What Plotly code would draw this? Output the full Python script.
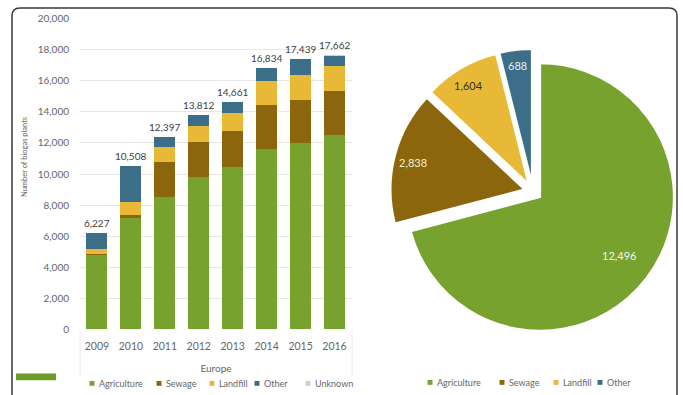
import math
import plotly.graph_objects as go

# ---- data -------------------------------------------------------------
years = ["2009", "2010", "2011", "2012", "2013", "2014", "2015", "2016"]
agriculture = [4830, 7140, 8540, 9780, 10430, 11610, 11980, 12496]
sewage = [50, 215, 2215, 2300, 2370, 2840, 2790, 2838]
landfill = [300, 820, 1010, 1010, 1120, 1550, 1610, 1604]
other = [1047, 2333, 632, 722, 741, 834, 1059, 688]
unknown = [0, 0, 0, 0, 0, 0, 0, 36]
totals = [6227, 10508, 12397, 13812, 14661, 16834, 17439, 17662]

series_names = ["Agriculture", "Sewage", "Landfill", "Other", "Unknown"]

pie_labels = ["Agriculture", "Sewage", "Landfill", "Other"]
pie_values = [12496, 2838, 1604, 688]

y_ticks = [0, 2000, 4000, 6000, 8000, 10000, 12000, 14000, 16000, 18000, 20000]

# ---- style ------------------------------------------------------------
W, H = 683, 395
FONT = "Lato"
GREY = "#666666"
COLORS = {
    "Agriculture": "#77a22e",
    "Sewage": "#8b660c",
    "Landfill": "#e8b936",
    "Other": "#3c6e8a",
    "Unknown": "#cfcfcf",
}
PIE_TEXT_COLORS = ["#f4f4f4", "#f6efd8", "#3a3020", "#e6eef4"]
PIE_LABEL_RADIUS = [0.72, 0.83, 0.85, 0.88]
PIE_PULL = 0.067


def px(x):
    """pixel x -> paper fraction"""
    return x / W


def py(y):
    """pixel y (from top) -> paper fraction"""
    return 1 - y / H


fig = go.Figure()

# stacked bars
stack = [agriculture, sewage, landfill, other, unknown]
for name, vals in zip(series_names, stack):
    fig.add_trace(go.Bar(
        x=years, y=vals, name=name, marker_color=COLORS[name],
        marker_line_width=0, xaxis="x", yaxis="y", showlegend=False,
    ))

# pie
pie_dom_x = [px(385.7), px(680.3)]
pie_dom_y = [py(338.6), py(44.2)]
fig.add_trace(go.Pie(
    labels=pie_labels, values=pie_values, sort=False, direction="clockwise",
    rotation=0, pull=[PIE_PULL] * len(pie_values),
    marker=dict(colors=[COLORS[l] for l in pie_labels],
                line=dict(color="white", width=2)),
    textinfo="none", showlegend=False,
    domain=dict(x=pie_dom_x, y=pie_dom_y),
))

annotations = []
shapes = []

# totals above each bar (x given as category index)
for i, tot in enumerate(totals):
    annotations.append(dict(
        x=i, y=tot, xref="x", yref="y", text=f"{tot:,}", showarrow=False,
        xanchor="center", yanchor="bottom", yshift=2,
        font=dict(family=FONT, size=10, color="#404040"),
    ))

# pie value labels, placed along each slice's mid angle
box_w = W * (pie_dom_x[1] - pie_dom_x[0])
box_h = H * (pie_dom_y[1] - pie_dom_y[0])
r = min(box_w, box_h) / 2 / (1 + PIE_PULL)
cx = W * (pie_dom_x[0] + pie_dom_x[1]) / 2
cy = H * (1 - (pie_dom_y[0] + pie_dom_y[1]) / 2)
total = sum(pie_values)
cum = 0
for i, v in enumerate(pie_values):
    mid = 2 * math.pi * (cum + v / 2) / total
    cum += v
    dx, dy = math.sin(mid), -math.cos(mid)
    dist = r * (PIE_PULL + PIE_LABEL_RADIUS[i])
    annotations.append(dict(
        x=px(cx + dx * dist), y=py(cy + dy * dist), xref="paper", yref="paper",
        text=f"{v:,}", showarrow=False, xanchor="center", yanchor="middle",
        font=dict(family=FONT, size=11, color=PIE_TEXT_COLORS[i]),
    ))

# y axis title
annotations.append(dict(
    x=px(25), y=py(155.7), xref="paper", yref="paper", text="Number of biogas plants",
    textangle=-90, showarrow=False, xanchor="center", yanchor="middle",
    font=dict(family=FONT, size=7.5, color=GREY),
))


def legend(items, marker_x, y):
    for name, mx in zip(items, marker_x):
        shapes.append(dict(
            type="rect", xref="paper", yref="paper",
            x0=px(mx - 2.5), x1=px(mx + 2.5), y0=py(y + 2.5), y1=py(y - 2.5),
            fillcolor=COLORS[name], line_width=0,
        ))
        annotations.append(dict(
            x=px(mx + 5), y=py(y), xref="paper", yref="paper", text=name,
            showarrow=False, xanchor="left", yanchor="middle",
            font=dict(family=FONT, size=9, color=GREY),
        ))


legend(series_names, [92, 159, 212, 257, 308], 389.2)
legend(pie_labels, [430, 502, 556, 600], 388.2)

# faint category frame under the bars
for xl in (80, 352):
    shapes.append(dict(type="line", xref="paper", yref="paper",
                       x0=px(xl), x1=px(xl), y0=py(333.4), y1=py(382),
                       line=dict(color="#ececec", width=1)))

# outer rounded frame
R = 8
fx0, fx1, fy0, fy1 = 12, 677, 2, 410
path = (f"M {px(fx0)},{py(fy1)} L {px(fx0)},{py(fy0 + R)} "
        f"Q {px(fx0)},{py(fy0)} {px(fx0 + R)},{py(fy0)} "
        f"L {px(fx1 - R)},{py(fy0)} Q {px(fx1)},{py(fy0)} {px(fx1)},{py(fy0 + R)} "
        f"L {px(fx1)},{py(fy1)}")
shapes.append(dict(type="path", xref="paper", yref="paper", path=path,
                   line=dict(color="#3a3a3a", width=1.5)))

# green swatch at lower left
shapes.append(dict(type="rect", xref="paper", yref="paper",
                   x0=px(16), x1=px(56), y0=py(386.1), y1=py(378.9),
                   fillcolor="#6e9a2a", line_width=0))

fig.update_layout(
    width=W, height=H, margin=dict(l=0, r=0, t=0, b=0),
    paper_bgcolor="white", plot_bgcolor="white",
    barmode="stack", bargap=0.38, showlegend=False,
    font=dict(family=FONT, color=GREY),
    xaxis=dict(
        domain=[px(80), px(352)], type="category",
        tickfont=dict(family=FONT, size=10.5, color=GREY),
        ticks="outside", ticklen=7, tickcolor="rgba(0,0,0,0)",
        showline=False, showgrid=False,
        title=dict(text="Europe", standoff=14,
                   font=dict(family=FONT, size=10, color=GREY)),
    ),
    yaxis=dict(
        domain=[py(333.4), py(13.2)], range=[0, 20000],
        tickvals=y_ticks, ticktext=[f"{v:,}" for v in y_ticks],
        tickfont=dict(family=FONT, size=10, color=GREY),
        ticks="outside", ticklen=8, tickcolor="rgba(0,0,0,0)",
        gridcolor="#e6e6e6", gridwidth=1, zeroline=False, showline=False,
    ),
    annotations=annotations, shapes=shapes,
)

fig.write_html("out.html")
